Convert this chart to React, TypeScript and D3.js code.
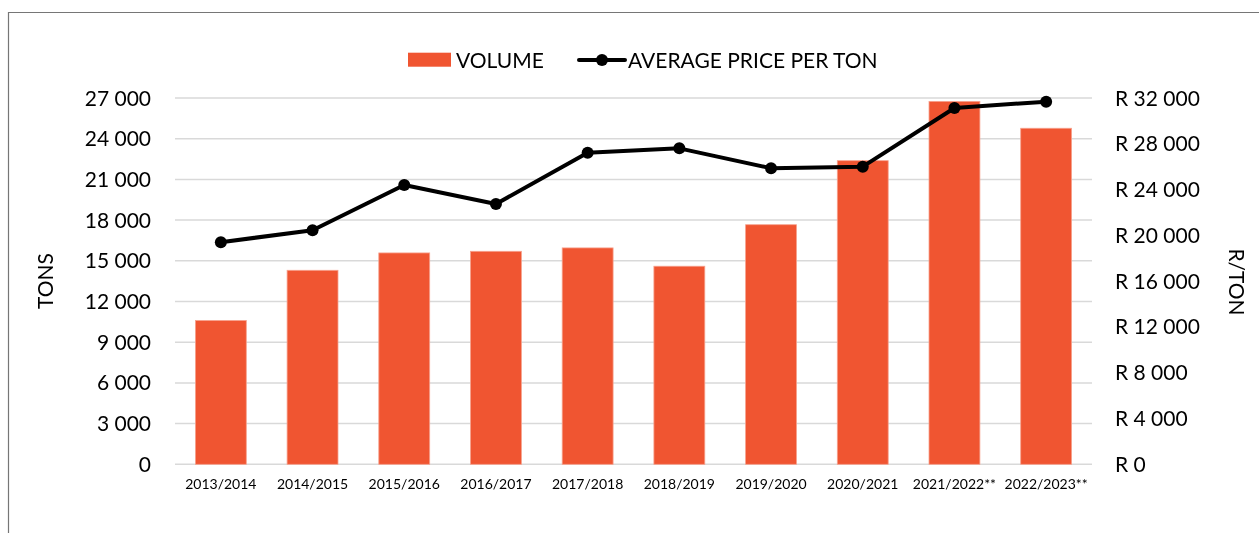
import { useEffect, useRef } from "react";
import * as d3 from "d3";

const seasons = [
  "2013/2014",
  "2014/2015",
  "2015/2016",
  "2016/2017",
  "2017/2018",
  "2018/2019",
  "2019/2020",
  "2020/2021",
  "2021/2022**",
  "2022/2023**",
];
const volume = [10600, 14300, 15580, 15700, 15950, 14600, 17660, 22380, 26750, 24770];
const pricePerTon = [19400, 20450, 24400, 22740, 27220, 27600, 25860, 26000, 31130, 31680];
const tonTicks = [0, 3000, 6000, 9000, 12000, 15000, 18000, 21000, 24000, 27000];
const randTicks = [0, 4000, 8000, 12000, 16000, 20000, 24000, 28000, 32000];

const fmt = (v: number) => d3.format(",")(v).replace(/,/g, " ");

export default function App() {
  const ref = useRef<SVGSVGElement | null>(null);

  useEffect(() => {
    const svg = d3.select(ref.current);
    svg.selectAll("*").remove();
    const width = 1259;
    const height = 533;
    const font = "Lato, 'Open Sans', sans-serif";
    const left = 175;
    const right = 1092;
    const top = 98;
    const bottom = 464.3;

    svg.attr("width", width).attr("height", height);

    // outer frame (only top & left edges visible)
    svg
      .append("path")
      .attr("d", `M8.5,${height} L8.5,12.5 L${width},12.5`)
      .attr("fill", "none")
      .attr("stroke", "#767676")
      .attr("stroke-width", 1.2);

    const x = d3.scaleBand().domain(seasons).range([left, right]).paddingInner(0.445).paddingOuter(0.2225);
    const yL = d3.scaleLinear().domain([0, 27000]).range([bottom, top]);
    const yR = d3.scaleLinear().domain([0, 32000]).range([bottom, top]);

    // gridlines
    svg
      .append("g")
      .selectAll("line")
      .data(tonTicks)
      .enter()
      .append("line")
      .attr("x1", left)
      .attr("x2", right)
      .attr("y1", (d) => yL(d))
      .attr("y2", (d) => yL(d))
      .attr("stroke", "#d9d9d9")
      .attr("stroke-width", 1.5);

    // left tick labels
    svg
      .append("g")
      .selectAll("text")
      .data(tonTicks)
      .enter()
      .append("text")
      .attr("x", 151)
      .attr("y", (d) => yL(d))
      .attr("dy", "0.36em")
      .attr("text-anchor", "end")
      .attr("font-family", font)
      .attr("font-size", 21)
      .attr("fill", "#000")
      .text((d) => fmt(d));

    // right tick labels
    svg
      .append("g")
      .selectAll("text")
      .data(randTicks)
      .enter()
      .append("text")
      .attr("x", 1115)
      .attr("y", (d) => yR(d))
      .attr("dy", "0.36em")
      .attr("text-anchor", "start")
      .attr("font-family", font)
      .attr("font-size", 21)
      .attr("fill", "#000")
      .text((d) => "R " + fmt(d));

    // bars
    svg
      .append("g")
      .selectAll("rect")
      .data(volume)
      .enter()
      .append("rect")
      .attr("x", (_, i) => x(seasons[i]) as number)
      .attr("y", (d) => yL(d))
      .attr("width", x.bandwidth())
      .attr("height", (d) => bottom - yL(d))
      .attr("fill", "#F05531")
      .attr("stroke", "#F7A28E")
      .attr("stroke-width", 0.8);

    // x labels
    svg
      .append("g")
      .selectAll("text")
      .data(seasons)
      .enter()
      .append("text")
      .attr("x", (d) => (x(d) as number) + x.bandwidth() / 2)
      .attr("y", 489)
      .attr("text-anchor", "middle")
      .attr("font-family", font)
      .attr("font-size", 14)
      .attr("fill", "#000")
      .text((d) => d);

    // price line
    const line = d3
      .line<number>()
      .x((_, i) => (x(seasons[i]) as number) + x.bandwidth() / 2)
      .y((d) => yR(d));

    svg
      .append("path")
      .datum(pricePerTon)
      .attr("d", line)
      .attr("fill", "none")
      .attr("stroke", "#000")
      .attr("stroke-width", 4)
      .attr("stroke-linejoin", "round");

    svg
      .append("g")
      .selectAll("circle")
      .data(pricePerTon)
      .enter()
      .append("circle")
      .attr("cx", (_, i) => (x(seasons[i]) as number) + x.bandwidth() / 2)
      .attr("cy", (d) => yR(d))
      .attr("r", 6)
      .attr("fill", "#000");

    // axis titles
    svg
      .append("text")
      .attr("transform", "translate(45,281) rotate(-90)")
      .attr("dy", "0.36em")
      .attr("text-anchor", "middle")
      .attr("font-family", font)
      .attr("font-size", 21)
      .text("TONS");

    svg
      .append("text")
      .attr("transform", "translate(1237,282) rotate(90)")
      .attr("dy", "0.36em")
      .attr("text-anchor", "middle")
      .attr("font-family", font)
      .attr("font-size", 21)
      .text("R/TON");

    // legend
    const legend = svg.append("g");
    legend
      .append("rect")
      .attr("x", 408)
      .attr("y", 52.7)
      .attr("width", 43)
      .attr("height", 14)
      .attr("fill", "#F05531");
    legend
      .append("text")
      .attr("x", 456)
      .attr("y", 60)
      .attr("dy", "0.36em")
      .attr("font-family", font)
      .attr("font-size", 21)
      .text("VOLUME");
    legend
      .append("line")
      .attr("x1", 579)
      .attr("x2", 625)
      .attr("y1", 60)
      .attr("y2", 60)
      .attr("stroke", "#000")
      .attr("stroke-width", 4)
      .attr("stroke-linecap", "round");
    legend.append("circle").attr("cx", 602).attr("cy", 60).attr("r", 6).attr("fill", "#000");
    legend
      .append("text")
      .attr("x", 628)
      .attr("y", 60)
      .attr("dy", "0.36em")
      .attr("font-family", font)
      .attr("font-size", 21)
      .text("AVERAGE PRICE PER TON");
  }, []);

  return <svg ref={ref} style={{ position: "fixed", left: 0, top: 0 }}></svg>;
}
